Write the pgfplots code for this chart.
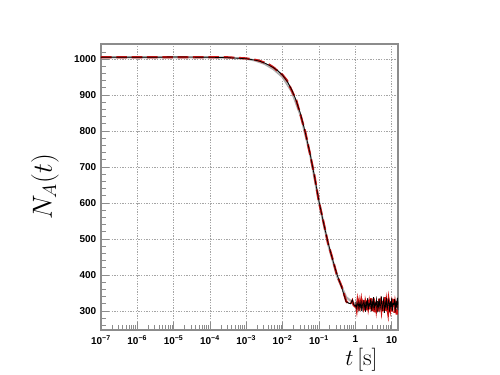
\documentclass[border=0pt]{standalone}
\usepackage{pgfplots}
\pgfplotsset{compat=1.18}
\usepackage{pgfplotstable}
\usepackage{fontspec}
\setsansfont{Liberation Sans}
\definecolor{rootred}{RGB}{205,20,20}
\definecolor{framegray}{RGB}{140,140,140}
\definecolor{gridgray}{RGB}{165,165,165}
\definecolor{theorygray}{RGB}{175,175,175}

% smooth (theory) curve
\pgfplotstableread{
t N
1e-7 1005
1e-5 1005
1e-4 1005
3.162e-4 1004
1e-3 1001
1.778e-3 996
3.162e-3 987
5.623e-3 972
1e-2 950
1.778e-2 910
3.162e-2 842
5.623e-2 738
1e-1 603
1.778e-1 486
3.162e-1 396
5.623e-1 338
1 318
2 315
15 315
}\theory

% simulation (black)
\pgfplotstableread{
t N
1e-7 1005
3e-6 1005
1e-5 1006
1e-4 1005
3.162e-4 1004
1e-3 1001
1.334e-3 999
1.778e-3 997
2.371e-3 994
3.162e-3 989
4.217e-3 983
5.623e-3 976
7.499e-3 967
1e-2 955
1.334e-2 938
1.778e-2 915
2.371e-2 884
3.162e-2 845
4.217e-2 795
5.623e-2 740
7.499e-2 675
1e-1 605
1.334e-1 545
1.778e-1 490
2.371e-1 443
3.162e-1 400
4.217e-1 366
5.623e-1 325
6.5e-1 322
7.499e-1 320
8.3e-1 331
9.0e-1 318
1 312
1.047 322
1.096 308
1.148 318
1.202 325
1.259 305
1.318 320
1.380 312
1.445 330
1.514 300
1.585 318
1.660 326
1.738 309
1.820 322
1.905 298
1.995 328
2.089 312
2.188 335
2.291 304
2.399 320
2.512 315
2.630 332
2.754 300
2.884 325
3.020 310
3.162 338
3.311 302
3.467 322
3.631 316
3.802 330
3.981 296
4.169 327
4.365 311
4.571 334
4.786 305
5.012 320
5.248 340
5.495 300
5.754 318
6.026 330
6.310 295
6.607 325
6.918 312
7.244 336
7.586 303
7.943 322
8.318 331
8.710 298
9.120 326
9.550 310
10.00 335
10.47 300
10.96 321
11.48 318
12.02 333
12.59 297
13.18 328
13.80 309
14.45 336
15.14 302
}\simblack

% simulation (red dashed)
\pgfplotstableread{
t N
1e-7 1005
1e-5 1005
1e-4 1005
3.162e-4 1005
1e-3 1002
1.334e-3 1000
1.778e-3 998
2.371e-3 995
3.162e-3 990
4.217e-3 985
5.623e-3 977
7.499e-3 966
1e-2 956
1.334e-2 940
1.778e-2 913
2.371e-2 886
3.162e-2 842
4.217e-2 797
5.623e-2 738
7.499e-2 677
1e-1 603
1.334e-1 547
1.778e-1 488
2.371e-1 445
3.162e-1 398
4.217e-1 368
5.623e-1 327
6.5e-1 320
7.499e-1 318
8.3e-1 328
9.0e-1 316
1 312
1.047 318
1.096 305
1.148 325
1.202 310
1.259 322
1.318 300
1.380 316
1.445 328
1.514 306
1.585 320
1.660 312
1.738 333
1.820 302
1.905 324
1.995 315
2.089 298
2.188 330
2.291 310
2.399 322
2.512 304
2.630 318
2.754 335
2.884 300
3.020 327
3.162 312
3.311 320
3.467 296
3.631 331
3.802 308
3.981 325
4.169 315
4.365 299
4.571 334
4.786 310
5.012 322
5.248 305
5.495 328
5.754 293
6.026 320
6.310 316
6.607 338
6.918 300
7.244 325
7.586 311
7.943 297
8.318 330
8.710 318
9.120 306
9.550 326
10.00 292
10.47 322
10.96 314
11.48 333
12.02 295
12.59 320
13.18 308
13.80 290
14.45 327
15.14 300
}\simred

\begin{document}
\begin{tikzpicture}
\useasboundingbox (0,0) rectangle (375pt,281.25pt);
\begin{axis}[
  at={(75.75pt,33.75pt)}, anchor=south west,
  scale only axis, width=222.75pt, height=214.5pt,
  xmode=log, log basis x=10,
  xmin=1e-7, xmax=15,
  ymin=247, ymax=1042,
  xtick={1e-7,1e-6,1e-5,1e-4,1e-3,1e-2,1e-1,1,10},
  xticklabels={10\textsuperscript{\char"2212 7},10\textsuperscript{\char"2212 6},10\textsuperscript{\char"2212 5},10\textsuperscript{\char"2212 4},10\textsuperscript{\char"2212 3},10\textsuperscript{\char"2212 2},10\textsuperscript{\char"2212 1},1,10},
  minor xtick={2e-7,3e-7,4e-7,5e-7,6e-7,7e-7,8e-7,9e-7,
    2e-6,3e-6,4e-6,5e-6,6e-6,7e-6,8e-6,9e-6,
    2e-5,3e-5,4e-5,5e-5,6e-5,7e-5,8e-5,9e-5,
    2e-4,3e-4,4e-4,5e-4,6e-4,7e-4,8e-4,9e-4,
    2e-3,3e-3,4e-3,5e-3,6e-3,7e-3,8e-3,9e-3,
    2e-2,3e-2,4e-2,5e-2,6e-2,7e-2,8e-2,9e-2,
    0.2,0.3,0.4,0.5,0.6,0.7,0.8,0.9,
    2,3,4,5,6,7,8,9},
  ytick={300,400,...,1000},
  minor ytick={260,280,320,340,360,380,420,440,460,480,520,540,560,580,620,640,660,680,720,740,760,780,820,840,860,880,920,940,960,980,1020,1040},
  /pgf/number format/1000 sep={},
  /pgf/number format/assume math mode=true,
  tick label style={font=\sffamily\bfseries\fontsize{7.5}{9}\selectfont, black},
  xticklabel style={yshift=-1pt},
  tick align=inside, tick pos=left,
  major tick length=6pt, minor tick length=3.5pt,
  every tick/.style={framegray, line width=0.6pt},
  axis line style={framegray, line width=1pt},
  grid=major,
  major grid style={gridgray, dash pattern=on 1pt off 1pt, line width=0.5pt},
  clip=true,
]
\addplot[black, line width=0.6pt] table[x=t,y=N] {\simblack};
\addplot[theorygray, line width=1.6pt] table[x=t,y=N] {\theory};
\addplot[rootred, line width=1.6pt, dash pattern=on 8pt off 3.5pt] table[x=t,y=N] {\simred};
\addplot[black, line width=0.5pt] table[x=t,y=N] {\simblack};
\end{axis}
\node[rotate=90, font=\fontsize{20}{24}\selectfont] at (33.75pt,141pt) {$N_A(t)$};
\node[font=\fontsize{18}{22}\selectfont] at (271pt,11.5pt) {$t\,[\mathrm{s}]$};
\end{tikzpicture}
\end{document}
